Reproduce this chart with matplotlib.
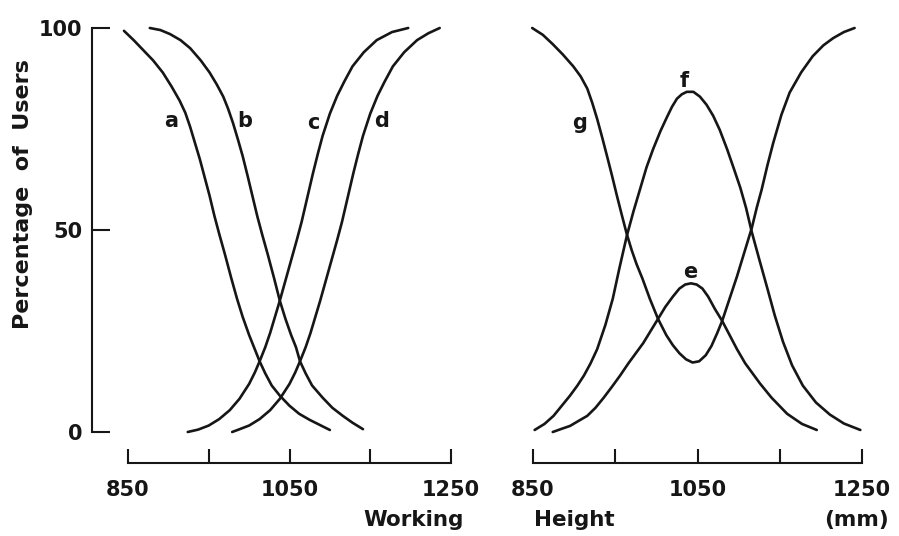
import matplotlib
matplotlib.use("Agg")
import matplotlib.pyplot as plt

# values (x in mm, y in % of users)
a_x = [845, 857, 869, 881, 893, 904, 914, 921, 927, 933, 939, 945, 951, 957, 963,
       970, 978, 985, 992, 1000, 1007, 1013, 1020, 1028, 1038, 1050, 1062, 1075, 1087, 1100]
a_y = [99.3, 97, 94.5, 92, 89, 85.5, 82, 79, 75.5, 71.5, 67.5, 63, 58.5, 53.5, 49,
       44, 38, 33, 28.5, 24, 20.5, 17.5, 14.5, 11.5, 9, 6.5, 4.5, 3, 1.8, 0.5]

b_x = [877, 890, 902, 915, 927, 940, 951, 960, 968, 974, 980, 986, 992, 998, 1004, 1010,
       1016, 1023, 1031, 1038, 1045, 1052, 1058, 1063, 1070, 1078, 1091, 1103, 1116, 1128, 1141]
b_y = [100, 99.5, 98.5, 97, 95, 92, 89, 86, 83, 80, 76.5, 72.5, 68.3, 63.5, 58.5, 53.5,
       49, 44, 38, 32.5, 28, 24, 21, 17.5, 14.5, 11.5, 8.5, 6, 4, 2.3, 0.7]

c_x = [924, 937, 950, 963, 976, 988, 1000, 1007, 1013, 1020, 1026, 1032, 1038, 1045, 1052,
       1059, 1065, 1072, 1079, 1085, 1091, 1100, 1109, 1118, 1128, 1142, 1158, 1177, 1197]
c_y = [0, 0.6, 1.6, 3.2, 5.4, 8.2, 11.9, 14.7, 17.5, 21, 24.5, 28.5, 32.5, 37.5, 42.5,
       47.5, 52, 58, 64, 68.8, 73.3, 78.8, 83.2, 86.8, 90.5, 94, 97, 99, 100]

d_x = [979, 987, 1000, 1013, 1026, 1038, 1050, 1057, 1063, 1070, 1076, 1082, 1088, 1095,
       1102, 1109, 1115, 1122, 1129, 1135, 1141, 1150, 1159, 1168, 1178, 1192, 1208, 1222, 1236]
d_y = [0, 0.6, 1.6, 3.2, 5.4, 8.2, 11.9, 14.7, 17.5, 21, 24.5, 28.5, 32.5, 37.5,
       42.5, 47.5, 52, 58, 64, 68.8, 73.3, 78.8, 83.2, 86.8, 90.5, 94, 97, 98.7, 100]

g_x = [849, 862, 874, 886, 899, 908, 916, 922, 928, 934, 940, 946, 952, 958, 964, 970,
       976, 983, 992, 1002, 1012, 1020, 1028, 1036, 1044, 1052, 1060, 1067, 1074, 1080,
       1089, 1098, 1107, 1116, 1122, 1128, 1135, 1142, 1152, 1162, 1176, 1190, 1203,
       1215, 1228, 1241]
g_y = [100, 98.3, 96, 93.5, 90.5, 88, 85, 81.5, 77.5, 73, 68.3, 63.5, 58.5, 53.7, 49, 45,
       41.5, 38, 33, 28, 24, 21.5, 19.5, 18, 17.2, 17.5, 19, 21.3, 24.5, 27.5,
       33, 38.5, 44.5, 50.5, 55.5, 60, 66, 71.5, 78.5, 84, 89, 93, 95.7,
       97.5, 99, 100]

f_x = [852, 864, 875, 885, 895, 904, 912, 920, 928, 938, 947, 955, 964, 972, 980, 988,
       996, 1005, 1013, 1019, 1025, 1031, 1037, 1045, 1053, 1061, 1069, 1077, 1086, 1094,
       1102, 1109, 1116, 1125, 1135, 1144, 1154, 1165, 1178, 1194, 1211, 1228, 1248]
f_y = [0.5, 2, 4, 6.5, 9, 11.5, 14, 17, 20.5, 26.5, 33, 40.5, 48.5, 54.5, 60, 65.5,
       70, 74.5, 78, 80.5, 82.5, 83.6, 84.2, 84.2, 83, 81, 78.3, 74.8, 70, 65.3,
       60.5, 55.5, 49.5, 42.8, 35.5, 28.8, 22.3, 16.5, 11.5, 7.3, 4.3, 2.1, 0.5]

e_x = [874, 885, 895, 905, 916, 926, 936, 946, 956, 966, 975, 984, 993, 1002, 1011,
       1020, 1028, 1035, 1042, 1049, 1056, 1063, 1071, 1080, 1089, 1098, 1108, 1117,
       1126, 1140, 1159, 1177, 1195]
e_y = [0, 0.8, 1.5, 2.7, 4, 6, 8.5, 11.2, 14, 17, 19.5, 22, 25, 28, 31,
       33.5, 35.5, 36.5, 36.8, 36.5, 35.5, 33.5, 30.5, 27.5, 24, 20.5, 17, 14.5,
       12, 8.5, 4.5, 2, 0.5]

left_curves = [(a_x, a_y, "a", 904, 77), (b_x, b_y, "b", 995, 77),
               (c_x, c_y, "c", 1079, 76.5), (d_x, d_y, "d", 1164, 77)]
right_curves = [(g_x, g_y, "g", 907, 76.5), (f_x, f_y, "f", 1034, 87),
                (e_x, e_y, "e", 1041, 39.5)]

x_major = [850, 1050, 1250]
x_minor = [950, 1150]
y_ticks = [0, 50, 100]

W, H = 899, 536
ink = "#161616"
plt.rcParams["font.family"] = "DejaVu Sans"
plt.rcParams["font.weight"] = "bold"

fig = plt.figure(figsize=(W / 100, H / 100), dpi=100)


def px_axes(x0, x1, y_top, y_bot):
    return fig.add_axes([x0 / W, 1 - y_bot / H, (x1 - x0) / W, (y_bot - y_top) / H])


def style_panel(ax, curves, show_y):
    for xs, ys, name, lx, ly in curves:
        ax.plot(xs, ys, color=ink, lw=1.9, clip_on=False,
                solid_joinstyle="round", solid_capstyle="round")
        ax.text(lx, ly, name, ha="center", va="center", fontsize=15,
                fontweight="bold", color=ink)
    ax.set_xlim(850, 1250)
    ax.set_ylim(0, 100)
    for s in ["top", "right"]:
        ax.spines[s].set_visible(False)
    ax.spines["bottom"].set_position(("outward", 22.5))
    ax.spines["bottom"].set_bounds(850, 1250)
    ax.spines["bottom"].set_linewidth(1.5)
    ax.spines["bottom"].set_color(ink)
    ax.set_xticks(x_major)
    ax.set_xticks(x_minor, minor=True)
    ax.set_xticklabels([str(v) for v in x_major])
    ax.tick_params(axis="x", which="both", direction="in", length=10, width=1.5,
                   color=ink, labelsize=15, pad=12, labelcolor=ink)
    if show_y:
        ax.spines["left"].set_position(("outward", 26))
        ax.spines["left"].set_bounds(0, 100)
        ax.spines["left"].set_linewidth(1.5)
        ax.spines["left"].set_color(ink)
        ax.set_yticks(y_ticks)
        ax.set_yticklabels([str(v) for v in y_ticks])
        ax.tick_params(axis="y", direction="in", length=13, width=1.5,
                       color=ink, labelsize=15, pad=7, labelcolor=ink)
    else:
        ax.spines["left"].set_visible(False)
        ax.set_yticks([])
    ax.patch.set_visible(False)


ax1 = px_axes(128, 451, 28, 432)
ax2 = px_axes(533, 862, 28, 432)
style_panel(ax1, left_curves, True)
style_panel(ax2, right_curves, False)

fig.text(23 / W, 1 - 194 / H, "Percentage  of  Users", rotation=90,
         ha="center", va="center", fontsize=16, fontweight="bold", color=ink)
fig.text(414 / W, 1 - 520 / H, "Working", ha="center", va="center",
         fontsize=15.5, fontweight="bold", color=ink)
fig.text(574 / W, 1 - 520 / H, "Height", ha="center", va="center",
         fontsize=15.5, fontweight="bold", color=ink)
fig.text(856 / W, 1 - 520 / H, "(mm)", ha="center", va="center",
         fontsize=15.5, fontweight="bold", color=ink)

fig.savefig("out.png", dpi=100)
